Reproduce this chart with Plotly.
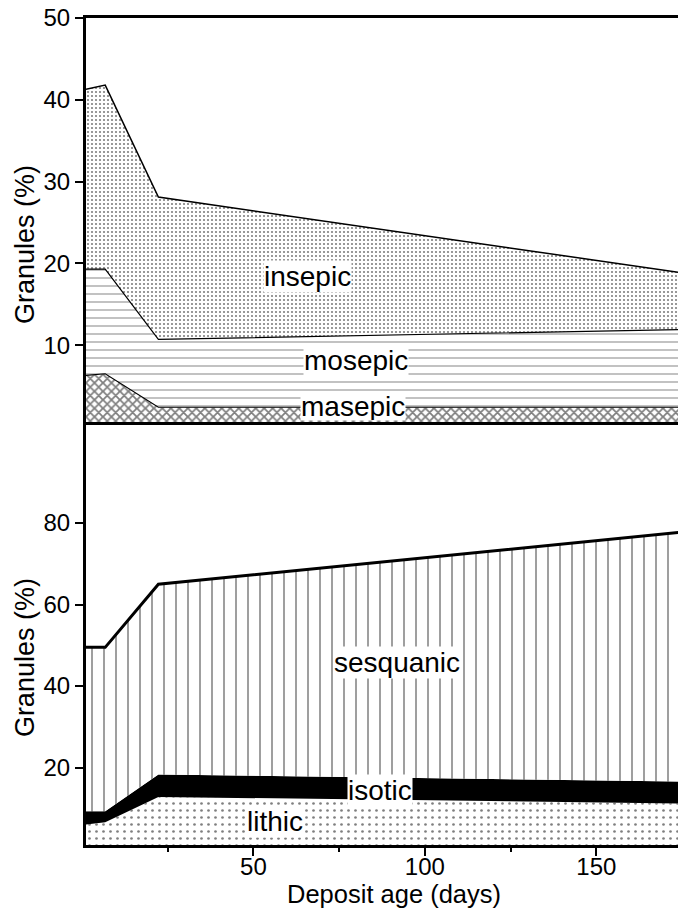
import plotly.graph_objects as go

# ---- data ----
days = [1.2, 6.8, 22.3, 174]

# top panel (epic granules), layer thicknesses (%)
masepic = [6.3, 6.5, 2.4, 2.4]
mosepic = [13.0, 12.8, 8.3, 9.5]
insepic = [22.0, 22.5, 17.4, 7.0]

# bottom panel, layer thicknesses (%)
lithic = [6.0, 6.6, 12.8, 11.2]
isotic = [3.3, 2.7, 5.5, 5.4]
sesquanic = [40.2, 40.2, 46.7, 61.1]

top_ticks = [10, 20, 30, 40, 50]
bot_ticks = [20, 40, 60, 80]
x_ticks = [50, 100, 150]
x_minor = [25, 75, 125]

FONT = "Liberation Sans, Arial, sans-serif"

fig = go.Figure()


def add_layer(name, vals, xa, ya, group, shape, size, solidity, lw, fg="black", fill_black=False):
    kw = dict(x=days, y=vals, name=name, mode="lines", stackgroup=group,
              xaxis=xa, yaxis=ya, line=dict(color="black", width=lw),
              showlegend=False, hoverinfo="skip")
    if fill_black:
        kw["fillcolor"] = "black"
    else:
        kw["fillcolor"] = "white"
        kw["fillpattern"] = dict(shape=shape, size=size, solidity=solidity,
                                 fgcolor=fg, bgcolor="white", fillmode="overlay")
    fig.add_trace(go.Scatter(**kw))


# top panel
add_layer("masepic", masepic, "x2", "y2", "top", "x", 6, 0.5, 1.2)
add_layer("mosepic", mosepic, "x2", "y2", "top", "-", 8, 0.14, 1.2, fg="#222222")
add_layer("insepic", insepic, "x2", "y2", "top", ".", 4, 0.22, 1.5)

# bottom panel
add_layer("lithic", lithic, "x", "y", "bot", ".", 7, 0.12, 0)
add_layer("isotic", isotic, "x", "y", "bot", "", 8, 0.1, 0, fill_black=True)
add_layer("sesquanic", sesquanic, "x", "y", "bot", "|", 12, 0.125, 3)

# ---- in-chart labels ----
labels = [
    ("insepic", 65.7, 18.4, "x2", "y2"),
    ("mosepic", 79.8, 8.1, "x2", "y2"),
    ("masepic", 79.0, 2.5, "x2", "y2"),
    ("sesquanic", 91.9, 45.8, "x", "y"),
    ("isotic", 87.0, 14.4, "x", "y"),
    ("lithic", 56.3, 6.7, "x", "y"),
]
for txt, xv, yv, xr, yr in labels:
    fig.add_annotation(x=xv, y=yv, xref=xr, yref=yr, text=txt, showarrow=False,
                       font=dict(size=28, color="black", family=FONT),
                       bgcolor="white", borderpad=0,
                       height=27 if txt == "masepic" else None)

# ---- axis titles (placed as annotations) ----
fig.add_annotation(x=-0.103, y=0.7255, xref="paper", yref="paper", text="Granules (%)",
                   textangle=-90, showarrow=False, xanchor="center", yanchor="middle",
                   font=dict(size=27, color="black", family=FONT))
fig.add_annotation(x=-0.103, y=0.226, xref="paper", yref="paper", text="Granules (%)",
                   textangle=-90, showarrow=False, xanchor="center", yanchor="middle",
                   font=dict(size=27, color="black", family=FONT))
fig.add_annotation(x=0.52, y=-0.0774, xref="paper", yref="paper", text="Deposit age (days)",
                   showarrow=False, xanchor="center", yanchor="bottom", borderpad=0,
                   font=dict(size=25.5, color="black", family=FONT))

axis_common = dict(showgrid=False, zeroline=False, showline=True, linecolor="black",
                   linewidth=3, tickcolor="black",
                   tickfont=dict(size=24, color="black", family=FONT))

fig.update_layout(
    width=678, height=909,
    margin=dict(l=86, r=0, t=18, b=64, autoexpand=False),
    paper_bgcolor="white", plot_bgcolor="white",
    font=dict(family=FONT, color="black"),
    xaxis=dict(domain=[0, 1], anchor="y", range=[1.2, 173.8], tickvals=x_ticks,
               ticks="outside", ticklen=8, tickwidth=2, ticklabelstandoff=-10,
               minor=dict(tickvals=x_minor, ticks="outside", ticklen=4, tickwidth=2,
                          tickcolor="black"),
               **axis_common),
    xaxis2=dict(domain=[0, 1], anchor="y2", matches="x", range=[1.2, 173.8],
                showticklabels=False, ticks="", mirror=True,
                showgrid=False, zeroline=False, showline=True, linecolor="black", linewidth=3),
    yaxis=dict(domain=[0, 0.5115], anchor="x", range=[1.0, 104.8], tickvals=bot_ticks,
               ticks="outside", ticklen=8, tickwidth=2, **axis_common),
    yaxis2=dict(domain=[0.5115, 1], anchor="x2", range=[0.6, 50], tickvals=top_ticks,
                ticks="outside", ticklen=8, tickwidth=2, **axis_common),
)

fig.write_html("out.html", config={"displayModeBar": False},
               post_script="document.body.style.margin='0px';"
                           "document.body.style.overflow='hidden';")
